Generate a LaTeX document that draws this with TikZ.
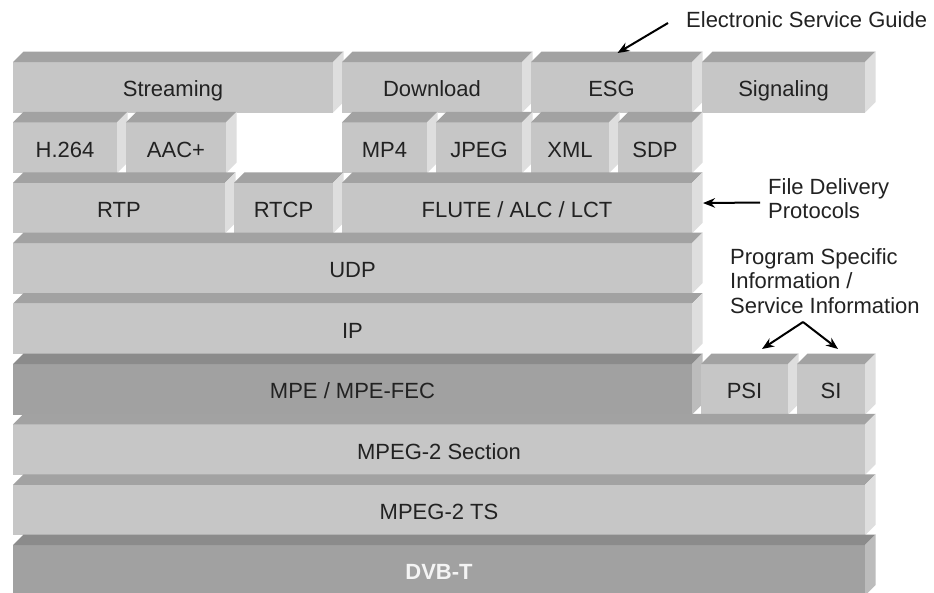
\documentclass[tikz,border=0pt]{standalone}
\usepackage{fontspec}
\setmainfont{Liberation Sans}
\usetikzlibrary{arrows.meta}

\definecolor{lfront}{HTML}{C6C6C6}
\definecolor{ltop}{HTML}{A2A2A2}
\definecolor{lside}{HTML}{DEDEDE}
\definecolor{dfront}{HTML}{A1A1A1}
\definecolor{dtop}{HTML}{8B8B8B}
\definecolor{dside}{HTML}{BCBCBC}
\definecolor{txt}{HTML}{222222}
\definecolor{lighttxt}{HTML}{F4F4F4}

\tikzset{
  slab/.style={rectangle, inner sep=0pt, outer sep=0pt, draw=none, text=txt,
    text height=21pt, text depth=2.2pt,
    font=\fontsize{22}{25}\selectfont},
  note/.style={inner sep=0pt, text=txt, align=left, anchor=west,
    font=\fontsize{22}{24.5}\selectfont},
  arr/.style={line width=2pt, -{Stealth[length=12pt,width=9.5pt]}},
}

% #1 name, #2 left, #3 right, #4 top, #5 bottom, #6 colour set (l/d), #7 label
\newcommand\slab[7]{%
  \node[slab, fill=#6front, minimum width={(#3-#2)*1pt}, minimum height={(#5-#4)*1pt}]
    (#1) at ({(#2+#3)/2},{(#4+#5)/2}) {#7};
  \fill[#6top] (#1.north west) -- ([shift={(10.5pt,10.5pt)}]#1.north west)
    -- ([shift={(10.5pt,10.5pt)}]#1.north east) -- (#1.north east) -- cycle;
  \fill[#6side] (#1.north east) -- ([shift={(10.5pt,10.5pt)}]#1.north east)
    -- ([shift={(10.5pt,10.5pt)}]#1.south east) -- (#1.south east) -- cycle;
}

\begin{document}
\begin{tikzpicture}[x=1pt, y=-1pt]
\useasboundingbox[fill=white] (0,0) rectangle (934,592);

% application layer
\slab{stream}{13}{333}{62}{112.5}{l}{Streaming}
\slab{down}{342}{522}{62}{112.5}{l}{Download}
\slab{esg}{531}{692}{62}{112.5}{l}{ESG}
\slab{sig}{702}{865}{62}{112.5}{l}{Signaling}

% content formats
\slab{h264}{13}{117}{122.4}{173}{l}{H.264}
\slab{aac}{126}{226}{122.4}{173}{l}{AAC+}
\slab{mp4}{342}{427}{122.4}{173}{l}{MP4}
\slab{jpeg}{436}{522}{122.4}{173}{l}{JPEG}
\slab{xml}{531}{609}{122.4}{173}{l}{XML}
\slab{sdp}{618}{692}{122.4}{173}{l}{SDP}

% transport protocols
\slab{rtp}{13}{225}{182.8}{233.3}{l}{RTP}
\slab{rtcp}{234}{333}{182.8}{233.3}{l}{RTCP}
\slab{flute}{342}{692}{182.8}{233.3}{l}{FLUTE / ALC / LCT}

\slab{udp}{13}{692}{243.2}{293.7}{l}{UDP}
\slab{ip}{13}{692}{303.6}{354.1}{l}{IP}

% encapsulation and tables
\slab{mpe}{13}{692}{364}{414.5}{d}{MPE / MPE-FEC}
\slab{psi}{701}{788}{364}{414.5}{l}{PSI}
\slab{si}{797}{865}{364}{414.5}{l}{SI}

\slab{sect}{13}{865}{424.4}{474.9}{l}{MPEG-2 Section}
\slab{ts}{13}{865}{484.8}{535.3}{l}{MPEG-2 TS}
\slab{dvbt}{13}{865}{545.2}{595.7}{d}{\color{lighttxt}\bfseries DVB-T}

% annotations
\node[note] (esgl) at (686,20) {Electronic Service Guide};
\draw[arr] ([shift={(-18pt,-3pt)}]esgl.west) -- ([shift={(6pt,9pt)}]esg.north);

\node[note] (fdp) at (768,198.5) {File Delivery\\Protocols};
\draw[arr] ([shift={(-8pt,-4pt)}]fdp.west) -- ([shift={(11pt,5pt)}]flute.east);

\node[note] (psil) at (730,281) {Program Specific\\Information /\\Service Information};
\coordinate (apex) at (803,322);
\draw[arr] (apex) -- ([shift={(17.5pt,15pt)}]psi.north);
\draw[arr] (apex) -- ([shift={(7pt,15pt)}]si.north);
\end{tikzpicture}
\end{document}
